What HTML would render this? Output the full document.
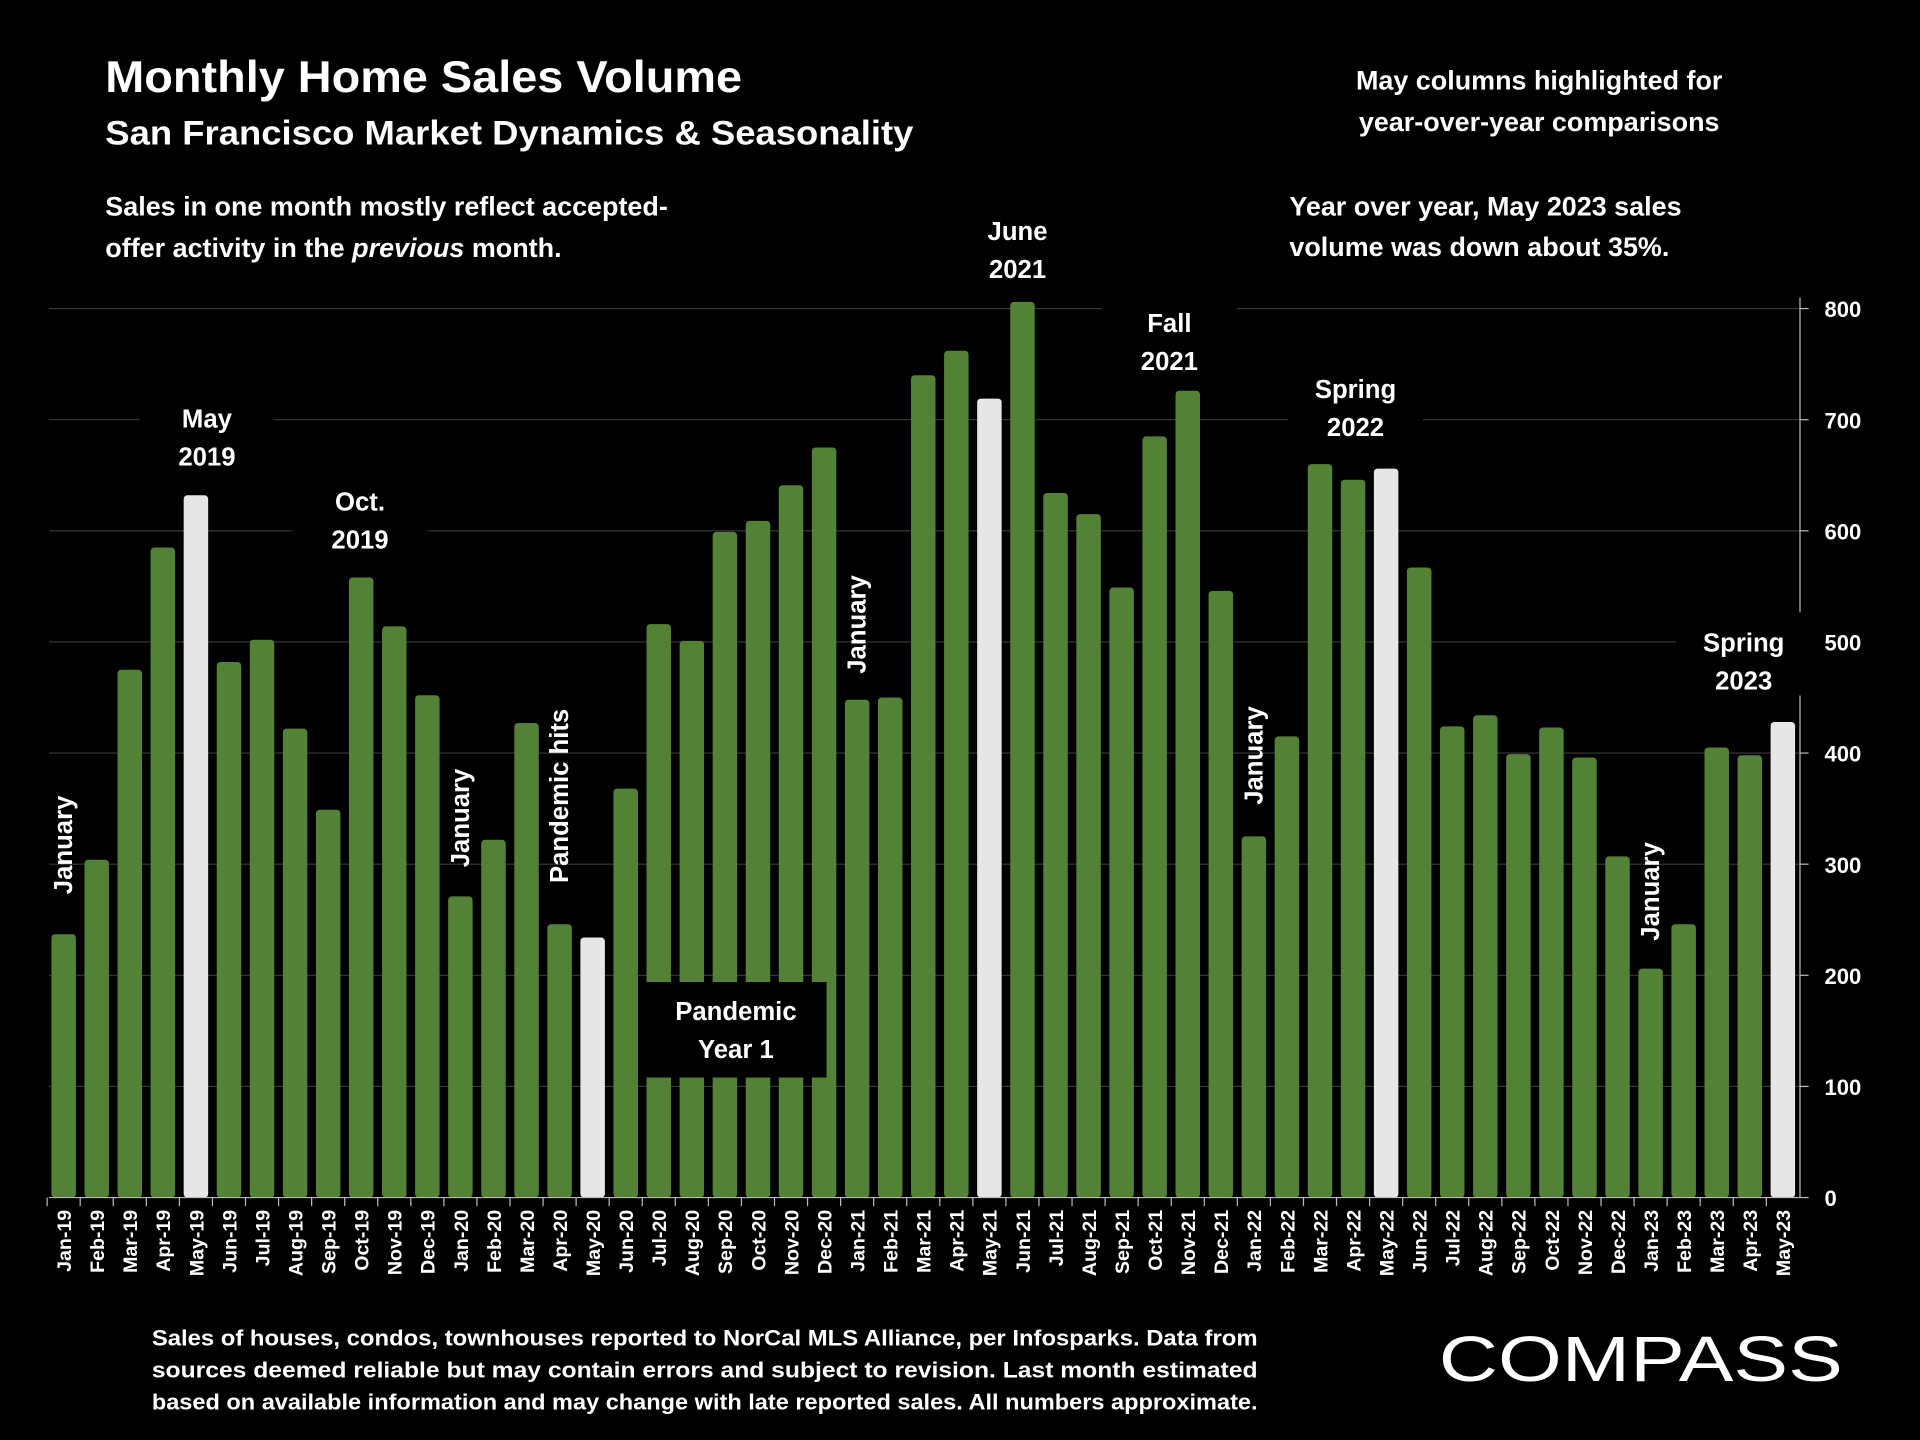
<!DOCTYPE html>
<html><head><meta charset="utf-8"><style>
html,body{margin:0;padding:0;background:#000;}
svg{display:block;font-family:"Liberation Sans",sans-serif;}
</style></head><body>
<svg width="1920" height="1440" viewBox="0 0 1568 1176" xmlns="http://www.w3.org/2000/svg">
<rect width="1568" height="1176" fill="#000"/>
<g id="grid"></g>
<g id="bars"></g>
<g id="xlabels"></g>
<g id="yaxis"></g>
<g id="annots" font-weight="bold" fill="#fff" font-size="21"></g>
<text x="86" y="75" fill="#fff" font-size="36" font-weight="bold" textLength="520" lengthAdjust="spacingAndGlyphs">Monthly Home Sales Volume</text>
<text x="86" y="118" fill="#fff" font-size="28" font-weight="bold" textLength="660" lengthAdjust="spacingAndGlyphs">San Francisco Market Dynamics &amp; Seasonality</text>
<text fill="#fff" font-size="22" font-weight="bold"><tspan x="86" y="176">Sales in one month mostly reflect accepted-</tspan><tspan x="86" y="210">offer activity in the <tspan font-style="italic">previous</tspan> month.</tspan></text>
<text fill="#fff" font-size="22" font-weight="bold" text-anchor="middle"><tspan x="1257" y="73">May columns highlighted for</tspan><tspan x="1257" y="107">year-over-year comparisons</tspan></text>
<text fill="#fff" font-size="22" font-weight="bold"><tspan x="1053" y="176">Year over year, May 2023 sales</tspan><tspan x="1053" y="209">volume was down about 35%.</tspan></text>
<g fill="#fff" font-size="18" font-weight="bold">
<text x="124" y="1099" textLength="903" lengthAdjust="spacingAndGlyphs">Sales of houses, condos, townhouses reported to NorCal MLS Alliance, per Infosparks. Data from</text>
<text x="124" y="1125" textLength="903" lengthAdjust="spacingAndGlyphs">sources deemed reliable but may contain errors and subject to revision. Last month estimated</text>
<text x="124" y="1151" textLength="903" lengthAdjust="spacingAndGlyphs">based on available information and may change with late reported sales. All numbers approximate.</text>
</g>
<text x="1175" y="1128" fill="#fff" font-size="52" textLength="330" lengthAdjust="spacingAndGlyphs">COMPASS</text>
<script>
const categories=["Jan-19","Feb-19","Mar-19","Apr-19","May-19","Jun-19","Jul-19","Aug-19","Sep-19","Oct-19","Nov-19","Dec-19","Jan-20","Feb-20","Mar-20","Apr-20","May-20","Jun-20","Jul-20","Aug-20","Sep-20","Oct-20","Nov-20","Dec-20","Jan-21","Feb-21","Mar-21","Apr-21","May-21","Jun-21","Jul-21","Aug-21","Sep-21","Oct-21","Nov-21","Dec-21","Jan-22","Feb-22","Mar-22","Apr-22","May-22","Jun-22","Jul-22","Aug-22","Sep-22","Oct-22","Nov-22","Dec-22","Jan-23","Feb-23","Mar-23","Apr-23","May-23"];
const sales=[237,304,475,585,632,482,502,422,349,558,514,452,271,322,427,246,234,368,516,501,599,609,641,675,448,450,740,762,719,806,634,615,549,685,726,546,325,415,660,646,656,567,424,434,399,423,396,307,206,246,405,398,428];
const yTicks=[0,100,200,300,400,500,600,700,800];
const NS="http://www.w3.org/2000/svg";
function y(v){return 978-v*(726/800);}
function x(i){return 52+i*27;}
function mk(tag,attrs,parent){const e=document.createElementNS(NS,tag);for(const k in attrs)e.setAttribute(k,attrs[k]);parent.appendChild(e);return e;}
const grid=document.getElementById('grid'),bars=document.getElementById('bars'),xl=document.getElementById('xlabels'),ya=document.getElementById('yaxis'),an=document.getElementById('annots');
yTicks.forEach(t=>{
 if(t>0){const l=mk('line',{x1:40,x2:1470,y1:y(t),y2:y(t),stroke:'#3a3a3a','stroke-width':1},grid);
 
 }
 const tk=mk('line',{x1:1470,x2:1477,y1:y(t),y2:y(t),stroke:'#bbb'},ya);
 
 
 const tx=mk('text',{x:1490,y:y(t)+7,fill:'#fff','font-size':18,'font-weight':'bold'},ya);
 tx.textContent=t;
 
 
});
const ax=mk('line',{x1:1470,x2:1470,y1:243,y2:978,stroke:'#bbb'},ya);


const bx=mk('line',{x1:40,x2:1470,y1:978,y2:978,stroke:'#bbb'},ya);


sales.forEach((v,i)=>{
 const may=categories[i].startsWith('May');
 const r=mk('rect',{x:x(i)-10,y:y(v),width:20,height:978-y(v),rx:3,fill:may?'#e6e6e6':'#538135'},bars);
 
 
 const tk=mk('line',{x1:x(i)-13.5,x2:x(i)-13.5,y1:978,y2:985,stroke:'#bbb'},xl);
 
 
 const t=mk('text',{x:0,y:0,fill:'#fff','font-size':16,'font-weight':'bold','text-anchor':'end',transform:`translate(${x(i)+6},988) rotate(-90)`},xl);
 t.textContent=categories[i];
 
 
});
function twoLine(cx,y1,l1,l2,name){
 const a=mk('text',{x:cx,y:y1,'text-anchor':'middle',fill:'#fff'},an);
 a.textContent=l1;
 
 
 const b=mk('text',{x:cx,y:y1+31,'text-anchor':'middle',fill:'#fff'},an);
 b.textContent=l2;
 
 
}
const horiz=[["may-2019",169,"May","2019",342],["oct-2019",294,"Oct.","2019",410],["june-2021",831,"June","2021",189],["fall-2021",955,"Fall","2021",264],["spring-2022",1107,"Spring","2022",318],["spring-2023",1424,"Spring","2023",525]];
horiz.forEach(h=>{
 const cx=h[1];
 const bg=mk('rect',{x:cx-55,y:h[4]-25,width:110,height:68,fill:'#000'},an);
 
 
 twoLine(cx,h[4]+7,h[2],h[3],'annotation-'+h[0]);
});
const vert=[[0,690,"January"],[12,668,"January"],[15,650,"Pandemic hits"],[24,510,"January"],[36,617,"January"],[48,728,"January"]];
vert.forEach(v=>{
 const t=mk('text',{x:0,y:0,'text-anchor':'middle',fill:'#fff',transform:`translate(${x(v[0])+7},${v[1]}) rotate(-90)`},an);
 t.textContent=v[2];
 
 
});
const pb=mk('rect',{x:527,y:802,width:148,height:78,fill:'#000'},an);


twoLine(601,833,"Pandemic","Year 1",'pandemic-year1-label');
</script>
</svg>
</body></html>
